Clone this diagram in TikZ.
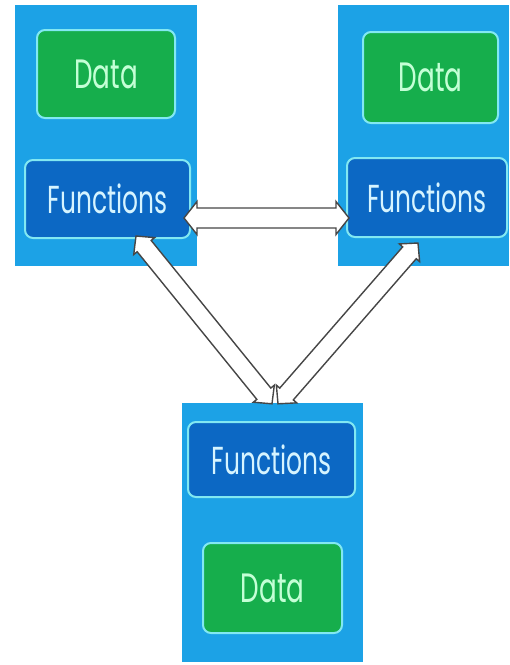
\documentclass[tikz,border=0pt]{standalone}
\usepackage{fontspec}
\newfontfamily\boxfont[FakeStretch=0.64]{Poppins}
\usetikzlibrary{calc}

\definecolor{contblue}{RGB}{28,162,230}
\definecolor{funcblue}{RGB}{12,104,196}
\definecolor{datagreen}{RGB}{22,174,76}
\definecolor{rimcyan}{RGB}{130,232,242}
\definecolor{functext}{RGB}{214,244,255}
\definecolor{datatext}{RGB}{196,255,214}
\definecolor{arrowrim}{RGB}{70,70,70}

% block arrow dimensions
\newlength\bahead \newlength\bahalf \newlength\bashaft
\newcommand\blockarrow[5]{% from, to, head length, head half width, shaft half width
  \setlength\bahead{#3}\setlength\bahalf{#4}\setlength\bashaft{#5}%
  \coordinate (baA) at ($(#1)!\bahead!(#2)$);
  \coordinate (baB) at ($(#2)!\bahead!(#1)$);
  \draw[blockarrow] (#1)
    -- ($(baA)!\bahalf!90:(#2)$) -- ($(baA)!\bashaft!90:(#2)$)
    -- ($(baB)!\bashaft!-90:(#1)$) -- ($(baB)!\bahalf!-90:(#1)$)
    -- (#2)
    -- ($(baB)!\bahalf!90:(#1)$) -- ($(baB)!\bashaft!90:(#1)$)
    -- ($(baA)!\bashaft!-90:(#2)$) -- ($(baA)!\bahalf!-90:(#2)$)
    -- cycle;}

\tikzset{
  container/.style={fill=contblue, draw=none, inner sep=0pt},
  funcbox/.style={fill=funcblue, draw=rimcyan, line width=2pt, rounded corners=8pt,
    inner sep=0pt, text=functext, font=\boxfont\fontsize{39}{39}\selectfont},
  databox/.style={fill=datagreen, draw=rimcyan, line width=2pt, rounded corners=8pt,
    inner sep=0pt, text=datatext, font=\boxfont\fontsize{41}{41}\selectfont},
  blockarrow/.style={fill=white, draw=arrowrim, line width=1.4pt, line join=miter},
}

\begin{document}
\begin{tikzpicture}[x=1pt, y=-1pt]
  \useasboundingbox (0,0) rectangle (510,665);

  % three modules
  \node[container, minimum width=182pt, minimum height=261pt] (mL) at (106,135.5) {};
  \node[container, minimum width=171pt, minimum height=261pt] (mR) at (423.5,135.5) {};
  \node[container, minimum width=181pt, minimum height=259pt] (mB) at (272.5,532.5) {};

  % data and functions of each module
  \node[databox, minimum width=138pt, minimum height=88pt] (dL) at (106,74) {Data};
  \node[funcbox, minimum width=165pt, minimum height=78pt] (fL) at (107.5,199) {Functions};
  \node[databox, minimum width=135pt, minimum height=91pt] (dR) at (430.5,77.5) {Data};
  \node[funcbox, minimum width=160pt, minimum height=79pt] (fR) at (427,197.5) {Functions};
  \node[funcbox, minimum width=167pt, minimum height=75pt] (fB) at (271.5,459.5) {Functions};
  \node[databox, minimum width=139pt, minimum height=90pt] (dB) at (272.5,588) {Data};

  % arrow tips
  \coordinate (hL) at ([xshift=-7pt, yshift=-19pt] fL.east);
  \coordinate (hR) at ([xshift=3pt, yshift=-20.5pt] fR.west);
  \coordinate (lTop) at ([xshift=112pt, yshift=3pt] fL.south west);
  \coordinate (lBot) at ([xshift=-0.5pt, yshift=-1pt] mB.north);
  \coordinate (rBot) at ([xshift=5.5pt, yshift=-1pt] mB.north);
  \coordinate (rTop) at ([xshift=-9pt, yshift=-5pt] fR.south);

  % messages between the modules
  \blockarrow{hL}{hR}{13pt}{16.5pt}{10pt}
  \blockarrow{lTop}{lBot}{13pt}{13.5pt}{9pt}
  \blockarrow{rBot}{rTop}{13pt}{13.5pt}{9pt}
\end{tikzpicture}
\end{document}
